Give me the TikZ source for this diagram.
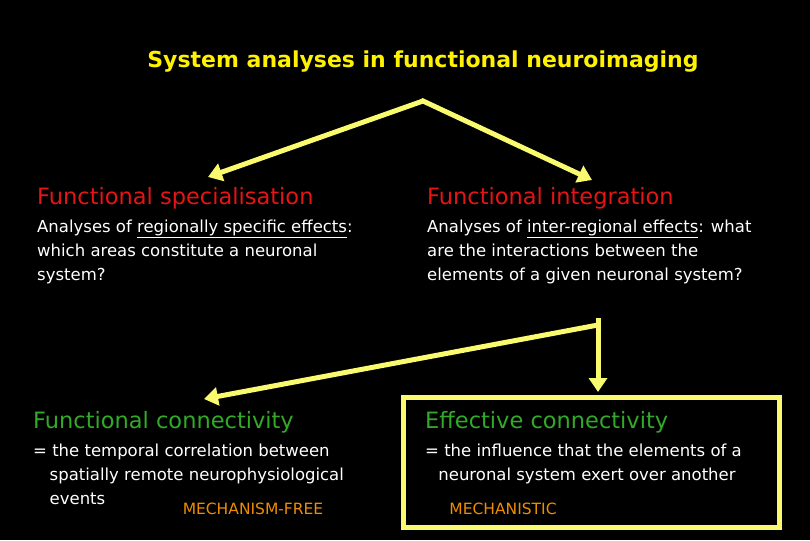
\documentclass[tikz,border=0pt]{standalone}
\usepackage{fontspec}
\setmainfont{DejaVu Sans}
\usetikzlibrary{positioning,arrows.meta}
\definecolor{arrowyellow}{RGB}{250,250,110}
\definecolor{headred}{RGB}{230,20,20}
\definecolor{headgreen}{RGB}{50,170,40}
\definecolor{mechorange}{RGB}{240,140,0}
\begin{document}
\begin{tikzpicture}[x=1pt,y=-1pt,
  head/.style={anchor=west,inner sep=0pt,font=\fontsize{22.5}{24}\selectfont},
  body/.style={anchor=north west,inner sep=0pt,text=white,align=left,
    font=\fontsize{16.5}{24}\selectfont},
  link/.style={arrowyellow,line width=5pt,-{Triangle[length=14pt,width=18pt]}}]
	\fill[black] (0,0) rectangle (810,540);
	\useasboundingbox (0,0) rectangle (810,540);
	\node[inner sep=0pt,text=yellow,font=\bfseries\fontsize{22}{24}\selectfont] (Title) at (423,62) {System analyses in functional neuroimaging};
	% upper level
	\coordinate (Top) at (423,101);
	\node[head,text=headred] (Spec) at (37,198) {Functional specialisation};
	\node[head,text=headred] (Integ) at (427,198) {Functional integration};
	\node[body] (SpecText) at (37,220) {Analyses of \underline{regionally specific effects}:\\which areas constitute a neuronal\\system?};
	\node[body] (IntegText) at (427,220) {Analyses of \underline{inter-regional effects}: what\\are the interactions between the\\elements of a given neuronal system?};
	\draw[link] (Top) -- (208,177);
	\draw[link,shorten <=-2pt] (Top) -- (592,180);
	% lower level
	\coordinate (Split) at (598,325);
	\node[head,text=headgreen] (FunCon) at (33,422) {Functional connectivity};
	\node[head,text=headgreen] (EffCon) at (425,422) {Effective connectivity};
	\node[body] (FunText) at (33,444) {= the temporal correlation between\\\hspace*{1.0em}spatially remote neurophysiological\\\hspace*{1.0em}events};
	\node[body] (EffText) at (425,444) {= the influence that the elements of a\\\hspace*{0.8em}neuronal system exert over another};
	\node[inner sep=0pt,text=mechorange,font=\fontsize{15.5}{18}\selectfont] (Free) at (253,509) {MECHANISM-FREE};
	\node[inner sep=0pt,text=mechorange,font=\fontsize{15.5}{18}\selectfont] (Mech) at (503,509) {MECHANISTIC};
	\draw[arrowyellow,line width=5pt] (403,397) rectangle (779,527);
	\draw[link,shorten <=-2pt] (598,320) -- (598,392);
	\draw[link] (Split) -- (204,399);
\end{tikzpicture}
\end{document}
